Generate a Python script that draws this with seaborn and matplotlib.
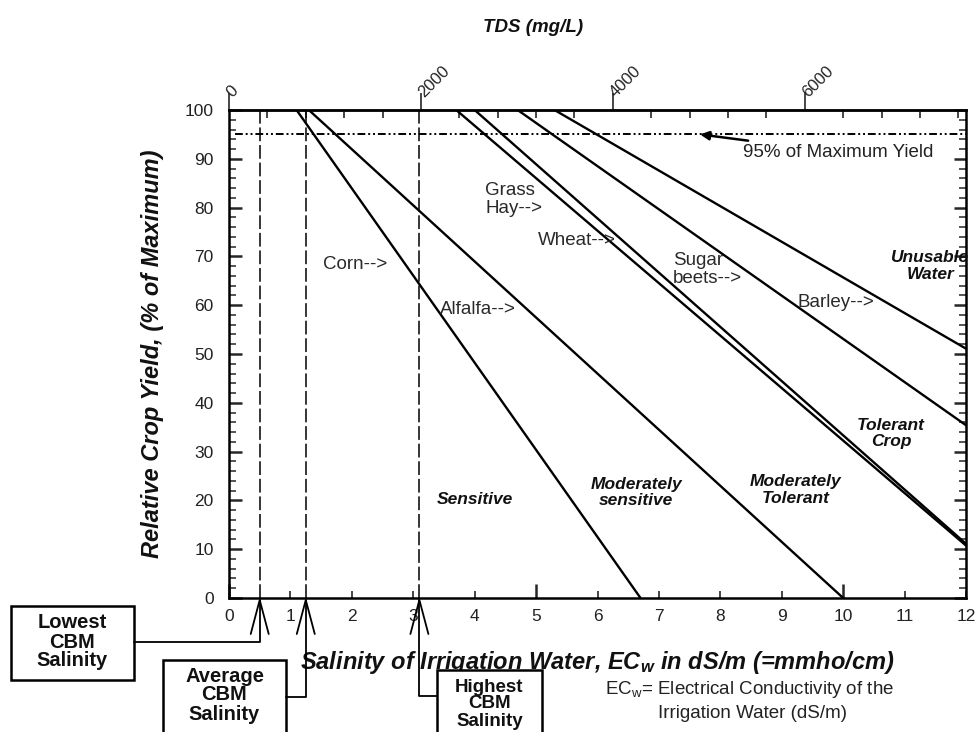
import numpy as np
import pandas as pd
import matplotlib
matplotlib.use("Agg")
import matplotlib.pyplot as plt
import seaborn as sns
from matplotlib.lines import Line2D
from matplotlib.patches import Rectangle
from matplotlib.ticker import MultipleLocator, FixedLocator, FuncFormatter

# ---------------- data ----------------
crops = ["Corn", "Alfalfa", "Grass Hay", "Wheat", "Sugar beets", "Barley"]
threshold_ec = [1.1, 1.3, 3.7, 4.0, 4.7, 5.3]       # EC_w where yield starts to fall (100 %)
zero_yield_ec = [6.7, 10.0, 13.0, 13.0, 16.0, 19.0]  # EC_w where yield reaches 0 %
yield_at_threshold = [100, 100, 100, 100, 100, 100]
yield_at_zero = [0, 0, 0, 0, 0, 0]

crop_labels = ["Corn-->", "Alfalfa-->", "Grass\nHay-->", "Wheat-->", "Sugar\nbeets-->", "Barley-->"]
crop_label_x = [1.53, 3.44, 4.17, 5.03, 7.23, 9.25]
crop_label_y = [68.3, 59.1, 81.6, 73.3, 67.3, 60.5]

class_labels = ["Sensitive", "Moderately\nsensitive", "Moderately\nTolerant", "Tolerant\nCrop", "Unusable\nWater"]
class_label_x = [4.0, 6.63, 9.22, 10.78, 11.42]
class_label_y = [20.1, 21.6, 22.2, 33.7, 68.1]

cbm_labels = ["Lowest\nCBM\nSalinity", "Average\nCBM\nSalinity", "Highest\nCBM\nSalinity"]
cbm_ec = [0.5, 1.25, 3.1]

yield_95 = 95
line95_start = 0.1
tds_per_ec = 640
tds_ticks = [0, 2000, 4000, 6000]
ec_ticks = list(range(0, 13))
yield_ticks = list(range(0, 101, 10))

# ---------------- style ----------------
sns.set_theme(style="ticks")
plt.rcParams["font.family"] = ["Liberation Sans", "DejaVu Sans"]
plt.rcParams["mathtext.fontset"] = "custom"
plt.rcParams["mathtext.rm"] = "Liberation Sans"
plt.rcParams["mathtext.it"] = "Liberation Sans:italic:bold"
plt.rcParams["mathtext.bf"] = "Liberation Sans:bold"

W, H = 977, 732
fig = plt.figure(figsize=(W / 100, H / 100), dpi=100)
fig.patch.set_facecolor("white")

def fx(px):
    return px / W

def fy(py):
    return 1 - py / H

ax_left, ax_right, ax_top, ax_bottom = 229, 966, 110, 598
ax = fig.add_axes([fx(ax_left), fy(ax_bottom), fx(ax_right - ax_left), (ax_bottom - ax_top) / H])
ax.set_facecolor("white")

# crop response lines
rows = []
for c, t, z, y0, y1 in zip(crops, threshold_ec, zero_yield_ec, yield_at_threshold, yield_at_zero):
    rows.append({"crop": c, "ec": t, "yield": y0})
    rows.append({"crop": c, "ec": z, "yield": y1})
df = pd.DataFrame(rows)
sns.lineplot(data=df, x="ec", y="yield", hue="crop", palette=["black"] * len(crops),
             estimator=None, sort=False, legend=False, linewidth=1.7, ax=ax)

# 95 % line
ax.hlines(yield_95, line95_start, ec_ticks[-1], colors="black", linewidth=1.4,
          linestyles=[(0, (4, 1.5, 1, 1.5, 1, 1.5))])
ax.annotate("95% of Maximum Yield", xy=(7.67, yield_95), xytext=(8.37, 91.3),
            fontsize=13.5, va="center", ha="left", color="#222222",
            arrowprops=dict(arrowstyle="-|>", color="black", lw=1.8, mutation_scale=13,
                            shrinkA=0, shrinkB=0))

# CBM vertical dashed lines
for e in cbm_ec:
    ax.axvline(e, color="black", linewidth=1.1, linestyle=(0, (9, 2.5)))

# crop labels
for lab, x, y in zip(crop_labels, crop_label_x, crop_label_y):
    ax.text(x, y, lab, fontsize=13.5, ha="left", va="center", color="#2a2a2a", linespacing=1.1)

for lab, x, y in zip(class_labels, class_label_x, class_label_y):
    ax.text(x, y, lab, fontsize=12.5, ha="center", va="center", fontweight="bold",
            fontstyle="italic", color="#111111", linespacing=1.15)

# axes limits, ticks
ax.set_xlim(ec_ticks[0], ec_ticks[-1])
ax.set_ylim(yield_ticks[0], yield_ticks[-1])
ax.xaxis.set_major_locator(FixedLocator([0, 5, 10]))
ax.xaxis.set_minor_locator(FixedLocator([t for t in ec_ticks if t % 5 != 0]))
ax.xaxis.set_minor_formatter(FuncFormatter(lambda v, p: f"{v:g}"))
ax.xaxis.set_major_formatter(FuncFormatter(lambda v, p: f"{v:g}"))
ax.yaxis.set_major_locator(FixedLocator(yield_ticks))
ax.yaxis.set_minor_locator(MultipleLocator(2))
ax.tick_params(axis="x", which="major", direction="in", length=10, width=1.8, labelsize=12.5, pad=8,
               top=False, bottom=True)
ax.tick_params(axis="x", which="minor", direction="in", length=5, width=1.2, labelsize=12.5, pad=8,
               top=False, bottom=True)
ax.tick_params(axis="y", which="major", direction="in", length=9, width=1.8, labelsize=12.5, pad=11,
               left=True, right=True)
ax.tick_params(axis="y", which="minor", direction="in", length=5, width=1.1, left=True, right=True)
for s in ax.spines.values():
    s.set_linewidth(1.8)
    s.set_color("black")
for lab in ax.get_xticklabels(which="both") + ax.get_yticklabels():
    lab.set_color("#222222")

ax.set_xlabel("Salinity of Irrigation Water, EC$_w$ in dS/m (=mmho/cm)", fontsize=17,
              fontweight="bold", fontstyle="italic", color="#111111")
ax.xaxis.set_label_coords(0.5, -0.133)
ax.xaxis.label.set_verticalalignment("center")
ax.set_ylabel("Relative Crop Yield, (% of Maximum)", fontsize=17,
              fontweight="bold", fontstyle="italic", color="#111111")
ax.yaxis.set_label_coords(-0.104, 0.5)
ax.yaxis.label.set_verticalalignment("center")

# top TDS axis
sec = ax.secondary_xaxis("top", functions=(lambda e: e * tds_per_ec, lambda t: t / tds_per_ec))
sec.xaxis.set_major_locator(FixedLocator(tds_ticks))
sec.xaxis.set_minor_locator(MultipleLocator(400))
sec.tick_params(which="major", direction="out", length=12, width=1.2, labelsize=12, pad=-1)
sec.tick_params(which="minor", direction="in", length=6, width=1.2)
for lab in sec.get_xticklabels():
    lab.set_rotation(45)
    lab.set_rotation_mode("anchor")
    lab.set_ha("left")
    lab.set_va("center")
    lab.set_color("#222222")
sec.spines["top"].set_linewidth(1.8)
fig.text(fx(533), fy(28), "TDS (mg/L)", fontsize=13.5, fontweight="bold", fontstyle="italic",
         ha="center", va="center", color="#111111")

# ---------------- CBM boxes and pointers ----------------
boxes = [  # x0, y0(top), x1, y1(bottom), text centre y, connector y, side
    (11, 606, 134, 680, 642, 642, "right"),
    (163, 660, 286, 745, 695, 697, "right"),
    (437, 670, 542, 745, 704, 696, "left"),
]
fig.canvas.draw()
for lab, e, (x0, yt, x1, yb, ty, cy, side) in zip(cbm_labels, cbm_ec, boxes):
    xpix = ax.transData.transform((e, 0))[0]
    fig.add_artist(Rectangle((fx(x0), fy(yb)), fx(x1 - x0), (yb - yt) / H, transform=fig.transFigure,
                             facecolor="white", edgecolor="black", linewidth=1.8, clip_on=False))
    fig.text(fx((x0 + x1) / 2), fy(ty), lab, fontsize=14.5 if side == "right" else 13.5,
             fontweight="bold", ha="center", va="center", linespacing=1.0, color="#111111")
    edge = x1 if side == "right" else x0
    fig.add_artist(Line2D([fx(edge), fx(xpix), fx(xpix)], [fy(cy), fy(cy), fy(ax_bottom + 2)],
                          transform=fig.transFigure, color="black", linewidth=1.3))
    fig.add_artist(Line2D([fx(xpix - 9), fx(xpix), fx(xpix + 9)], [fy(634), fy(ax_bottom + 2), fy(634)],
                          transform=fig.transFigure, color="black", linewidth=1.3))

fig.text(fx(750), fy(689), "EC$_\\mathregular{w}$= Electrical Conductivity of the", fontsize=13.5,
         ha="center", va="center", color="#222222")
fig.text(fx(752), fy(713), "Irrigation Water (dS/m)", fontsize=13.5, ha="center", va="center",
         color="#222222")

fig.savefig("out.png", dpi=100, facecolor="white")
